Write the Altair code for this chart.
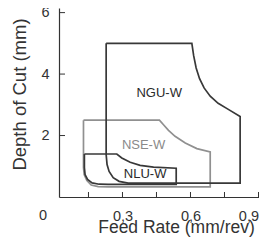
import altair as alt
import pandas as pd

# Outline vertices of each application area (feed rate mm/rev, depth of cut mm)
ngu_x = [0.228, 0.606, 0.614, 0.625, 0.640, 0.660, 0.687, 0.722, 0.765, 0.819, 0.819,
         0.325, 0.285, 0.259, 0.241, 0.232, 0.228, 0.228]
ngu_y = [5.0, 5.0, 4.6, 4.2, 3.85, 3.55, 3.28, 3.05, 2.86, 2.62, 0.45,
         0.45, 0.51, 0.63, 0.83, 1.055, 1.38, 5.0]

nse_x = [0.128, 0.463, 0.481, 0.503, 0.532, 0.577, 0.628, 0.687, 0.687,
         0.237, 0.193, 0.162, 0.143, 0.131, 0.128, 0.128]
nse_y = [2.5, 2.5, 2.35, 2.17, 1.975, 1.76, 1.575, 1.47, 0.33,
         0.33, 0.34, 0.39, 0.536, 0.731, 0.958, 2.5]

nlu_x = [0.132, 0.275, 0.297, 0.334, 0.378, 0.437, 0.537, 0.537,
         0.237, 0.197, 0.166, 0.146, 0.135, 0.132, 0.132]
nlu_y = [1.40, 1.40, 1.27, 1.13, 1.03, 0.97, 0.935, 0.41,
         0.41, 0.416, 0.46, 0.57, 0.731, 0.958, 1.40]

series = ["NSE-W", "NGU-W", "NLU-W"]
series_colors = ["#909090", "#383838", "#383838"]

label_names = ["NGU-W", "NSE-W", "NLU-W"]
label_x = [0.462, 0.393, 0.400]
label_y = [3.38, 1.68, 0.76]
label_colors = ["#2a2a2a", "#8a8a8a", "#2a2a2a"]

x_tick_values = [0.15, 0.3, 0.45, 0.6, 0.75, 0.9]
x_label_values = [0.3, 0.6, 0.9]
y_tick_values = [2, 4, 6]

rows = []
for name, xs, ys in [("NSE-W", nse_x, nse_y), ("NGU-W", ngu_x, ngu_y), ("NLU-W", nlu_x, nlu_y)]:
    for i, (a, b) in enumerate(zip(xs, ys)):
        rows.append({"series": name, "x": a, "y": b, "i": i})
df = pd.DataFrame(rows)

W, H = 200, 189
FONT = "Liberation Sans"

xscale = alt.Scale(domain=[0.02, 0.9022], nice=False, zero=False)
yscale = alt.Scale(domain=[0, 6.15], nice=False, zero=False)

xaxis = alt.Axis(values=x_label_values, labelExpr="replace(format(datum.value, '.1f'), '.', ',')",
                 grid=False, ticks=False, labelPadding=23, labelBaseline="alphabetic",
                 labelFlush=True,
                 labelFontSize=14.5, labelColor="#333333", labelFont=FONT,
                 domainColor="#333333", domainWidth=1.2,
                 title="Feed Rate (mm/rev)", titleFontSize=17.5, titleFont=FONT,
                 titleFontWeight="normal", titleColor="#333333",
                 titleX=117, titleY=35, titleBaseline="alphabetic", titleAlign="center")
yaxis = alt.Axis(values=y_tick_values, format="d", grid=False, ticks=False,
                 labelPadding=10, labelFontSize=14.5, labelColor="#333333", labelFont=FONT,
                 domainColor="#333333", domainWidth=1.2,
                 title="Depth of Cut (mm)", titleFontSize=18.5, titleFont=FONT,
                 titleFontWeight="normal", titleColor="#333333",
                 titleX=-34, titleY=86, titleAngle=270, titleBaseline="alphabetic",
                 titleAlign="center")

lines = alt.Chart(df).mark_line(strokeWidth=1.7, strokeJoin="miter").encode(
    x=alt.X("x:Q", scale=xscale, axis=xaxis),
    y=alt.Y("y:Q", scale=yscale, axis=yaxis),
    color=alt.Color("series:N", scale=alt.Scale(domain=series, range=series_colors), legend=None),
    detail="series:N",
    order="i:Q",
)

labels_df = pd.DataFrame({"name": label_names, "x": label_x, "y": label_y, "c": label_colors})
labels = alt.Chart(labels_df).mark_text(fontSize=13, font=FONT).encode(
    x=alt.X("x:Q", scale=xscale),
    y=alt.Y("y:Q", scale=yscale),
    text="name:N",
    color=alt.Color("c:N", scale=None),
)

xt = alt.Chart(pd.DataFrame({"v": x_tick_values})).mark_rule(color="#333333", strokeWidth=1).encode(
    x=alt.X("v:Q", scale=xscale), y=alt.value(H - 5), y2=alt.value(H)
)
yt = alt.Chart(pd.DataFrame({"v": y_tick_values})).mark_rule(color="#333333", strokeWidth=1).encode(
    y=alt.Y("v:Q", scale=yscale), x=alt.value(0), x2=alt.value(6)
)

zero = alt.Chart(pd.DataFrame({"t": ["0"], "v": [-0.05]})).mark_text(
    fontSize=14.5, font=FONT, color="#333333", baseline="alphabetic", clip=False
).encode(x=alt.X("v:Q", scale=xscale), y=alt.value(H + 23), text="t:N")

chart = alt.layer(lines, labels, xt, yt, zero).properties(
    width=W, height=H,
    autosize=alt.AutoSizeParams(type="none"),
    padding={"left": 51, "top": 0, "right": 0, "bottom": 40},
).configure_view(stroke=None)

chart.save("out.html", embed_options={"renderer": "svg", "actions": False})
